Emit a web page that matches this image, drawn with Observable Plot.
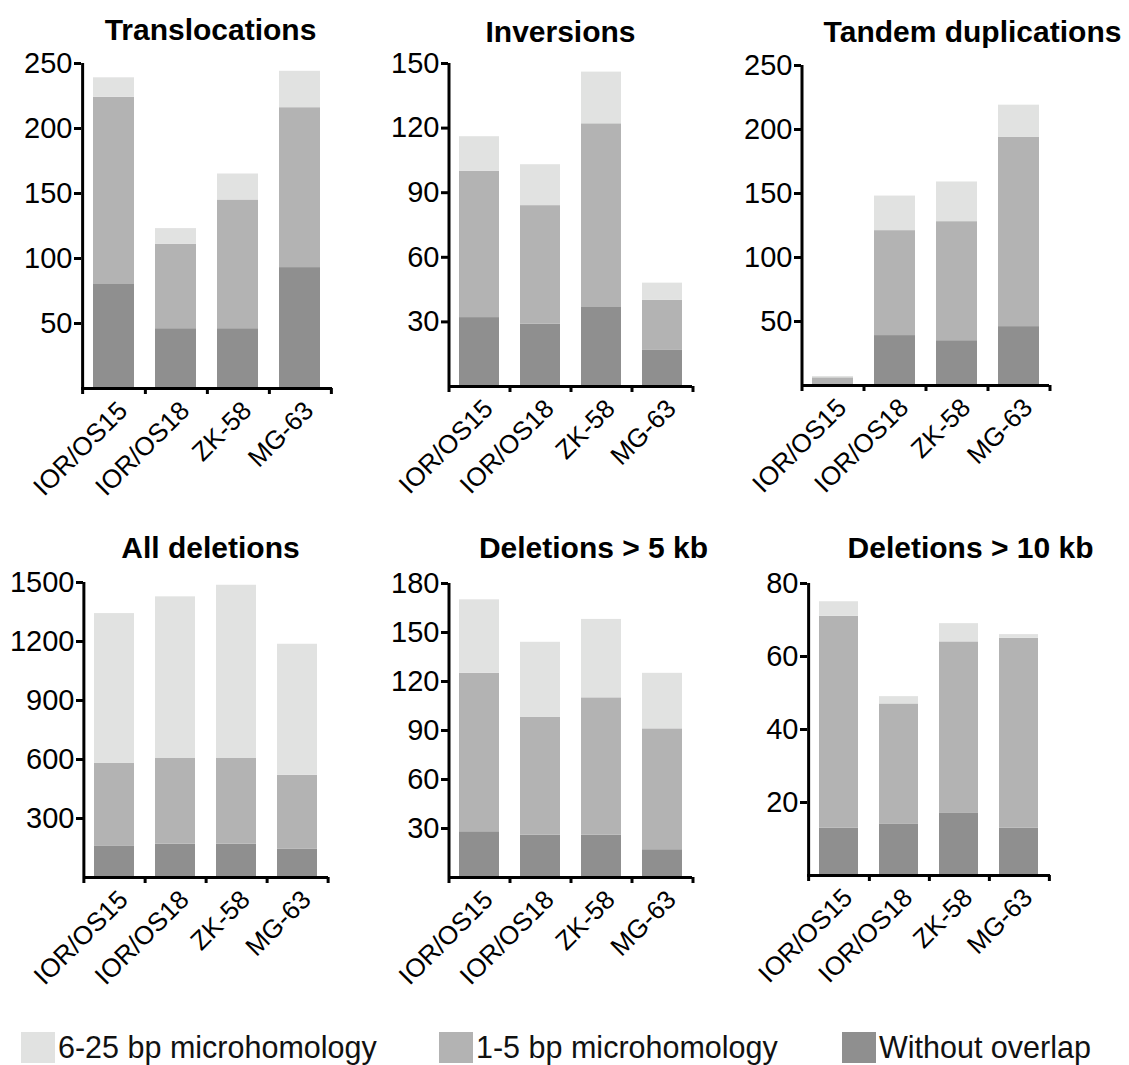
<!DOCTYPE html>
<html><head><meta charset="utf-8">
<script src="https://cdn.jsdelivr.net/npm/d3@7"></script>
<script src="https://cdn.jsdelivr.net/npm/@observablehq/plot@0.6"></script>
<style>
body{margin:0;background:#fff;}
#root{position:relative;width:1129px;height:1065px;overflow:hidden;font-family:"Liberation Sans",Arial,sans-serif;}
.panel{position:absolute;}
.legend-item{position:absolute;top:1032px;height:31px;display:flex;align-items:center;font-family:"Liberation Sans",Arial,sans-serif;font-size:30.5px;color:#111;white-space:nowrap;}
.sw{width:34px;height:31px;margin-right:3px;flex:none;}
</style></head><body><div id="root"></div>
<script>
// ---- data ----
const cellLines = ["IOR/OS15", "IOR/OS18", "ZK-58", "MG-63"];
const segments = ["Without overlap", "1-5 bp microhomology", "6-25 bp microhomology"];
const segmentColors = ["#8f8f8f", "#b3b3b3", "#e1e2e1"];
const legendOrder = ["6-25 bp microhomology", "1-5 bp microhomology", "Without overlap"];
const panelTitles = ["Translocations", "Inversions", "Tandem duplications", "All deletions", "Deletions > 5 kb", "Deletions > 10 kb"];
// each: [without overlap], [1-5 bp], [6-25 bp] per cell line
const translocations = [[80, 46, 46, 93], [144, 65, 99, 123], [15, 12, 20, 28]];
const inversions = [[32, 29, 37, 17], [68, 55, 85, 23], [16, 19, 24, 8]];
const tandemDuplications = [[0, 39, 35, 46], [6, 82, 93, 148], [1, 27, 31, 25]];
const allDeletions = [[158, 170, 170, 145], [422, 437, 437, 375], [762, 820, 879, 666]];
const deletions5kb = [[28, 26, 26, 17], [97, 72, 84, 74], [45, 46, 48, 34]];
const deletions10kb = [[13, 14, 17, 13], [58, 33, 47, 52], [4, 2, 5, 1]];
const yTicks = [[50, 100, 150, 200, 250], [30, 60, 90, 120, 150], [50, 100, 150, 200, 250], [300, 600, 900, 1200, 1500], [30, 60, 90, 120, 150, 180], [20, 40, 60, 80]];
const yMax = [250, 150, 250, 1500, 180, 80];

const panelData = [translocations, inversions, tandemDuplications, allDeletions, deletions5kb, deletions10kb];

// ---- layout (page pixels) ----
const layout = [
  {left: 0,   top: 0,   w: 370, h: 480, x0: 81,  x1: 332,  yTop: 63,  yZero: 388, titleX: 210, titleY: 39},
  {left: 370, top: 0,   w: 370, h: 480, x0: 448, x1: 692,  yTop: 63,  yZero: 386, titleX: 560, titleY: 41},
  {left: 740, top: 0,   w: 389, h: 480, x0: 801, x1: 1049, yTop: 65,  yZero: 385, titleX: 972, titleY: 41},
  {left: 0,   top: 480, w: 370, h: 500, x0: 83,  x1: 328,  yTop: 582, yZero: 877, titleX: 210, titleY: 557},
  {left: 370, top: 480, w: 370, h: 500, x0: 448, x1: 692,  yTop: 583, yZero: 877, titleX: 593, titleY: 557},
  {left: 740, top: 480, w: 389, h: 500, x0: 807, x1: 1050, yTop: 583, yZero: 875, titleX: 970, titleY: 557}
];

const root = document.getElementById("root");
const font = "'Liberation Sans', Arial, sans-serif";

panelData.forEach((series, p) => {
  const L = layout[p];
  const rows = [];
  cellLines.forEach((cell, i) => {
    segments.forEach((seg, s) => rows.push({cell, segment: seg, value: series[s][i]}));
  });
  const plotW = L.x1 - L.x0;
  const plotH = L.yZero - L.yTop;
  const step = plotW / cellLines.length;
  const chart = Plot.plot({
    width: L.w,
    height: L.h,
    marginLeft: L.x0 - L.left,
    marginRight: L.left + L.w - L.x1,
    marginTop: L.yTop - L.top,
    marginBottom: L.top + L.h - L.yZero,
    style: {fontFamily: font, background: "transparent", overflow: "visible", color: "#000"},
    x: {domain: cellLines, paddingInner: 0.346, paddingOuter: 0.173, label: null},
    y: {domain: [0, yMax[p]], label: null},
    color: {domain: segments, range: segmentColors},
    marks: [
      Plot.barY(rows, {x: "cell", y: "value", fill: "segment"}),
      Plot.axisY({ticks: yTicks[p], tickFormat: "d", tickSize: 7, tickPadding: 2, strokeWidth: 3, fontSize: 29, fill: "#000", label: null}),
      Plot.axisX({tickSize: 0, tickRotate: -45, tickPadding: 0, dx: 9, dy: 18, fontSize: 26, fill: "#000", label: null}),
      Plot.ruleY([0], {strokeWidth: 3, stroke: "#000"}),
      Plot.ruleX([cellLines[0]], {dx: -step / 2, insetBottom: -6, strokeWidth: 3, stroke: "#000"}),
      Plot.ruleX(cellLines, {dx: step / 2, insetTop: plotH, insetBottom: -6, strokeWidth: 3, stroke: "#000"}),
      Plot.text([panelTitles[p]], {frameAnchor: "top", dx: L.titleX - (L.x0 + L.x1) / 2, dy: L.titleY - L.yTop, lineAnchor: "bottom", fontWeight: "bold", fontSize: 30, fill: "#000"})
    ]
  });
  chart.classList.add("panel");
  chart.style.left = L.left + "px";
  chart.style.top = L.top + "px";
  root.appendChild(chart);
});

// ---- legend ----
const legendX = [21, 439, 842];
legendOrder.forEach((seg, k) => {
  const item = document.createElement("div");
  item.className = "legend-item";
  item.style.left = legendX[k] + "px";
  const sw = document.createElement("div");
  sw.className = "sw";
  sw.style.background = segmentColors[segments.indexOf(seg)];
  const label = document.createElement("span");
  label.textContent = seg;
  item.appendChild(sw);
  item.appendChild(label);
  root.appendChild(item);
});
</script>
</body></html>
